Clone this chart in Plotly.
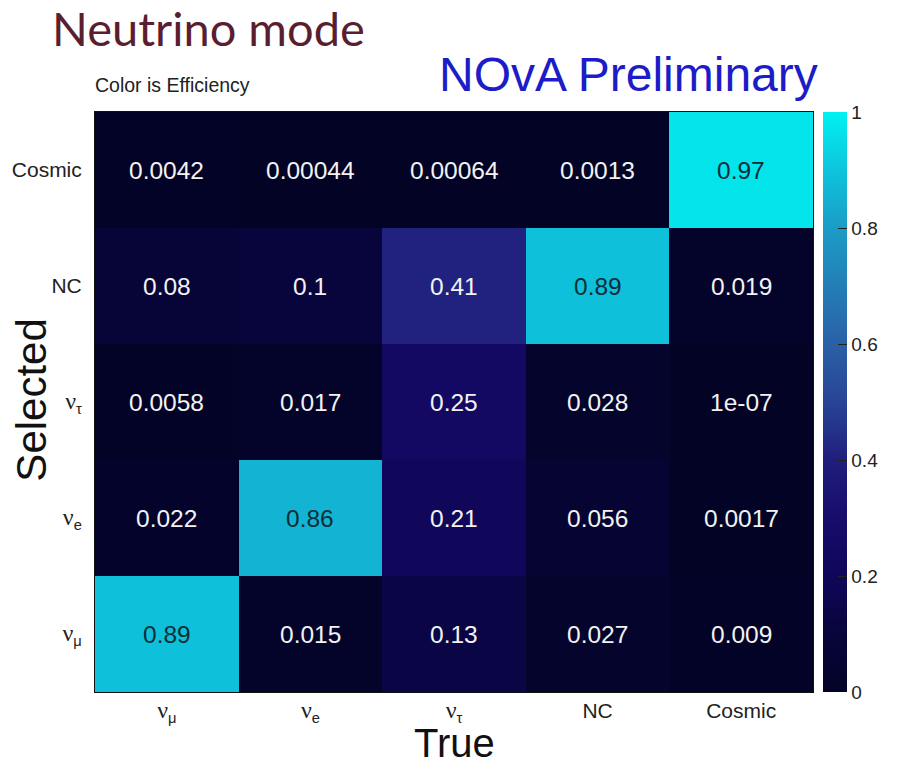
import plotly.graph_objects as go

true_cats = ["nu_mu", "nu_e", "nu_tau", "NC", "Cosmic"]
sel_cats = ["nu_mu", "nu_e", "nu_tau", "NC", "Cosmic"]
SERIF = "Liberation Serif"
tick_labels = [
    f'<span style="font-family:{SERIF};font-size:24px">ν</span><sub>μ</sub>',
    f'<span style="font-family:{SERIF};font-size:24px">ν</span><sub>e</sub>',
    f'<span style="font-family:{SERIF};font-size:24px">ν</span><sub>τ</sub>',
    "NC",
    "Cosmic",
]
# rows: selected (bottom -> top), columns: true
eff_numu = [0.89, 0.015, 0.13, 0.027, 0.009]
eff_nue = [0.022, 0.86, 0.21, 0.056, 0.0017]
eff_nutau = [0.0058, 0.017, 0.25, 0.028, 1e-07]
eff_nc = [0.08, 0.1, 0.41, 0.89, 0.019]
eff_cosmic = [0.0042, 0.00044, 0.00064, 0.0013, 0.97]
z = [eff_numu, eff_nue, eff_nutau, eff_nc, eff_cosmic]

cscale = [
    [0.0, "rgb(3,3,38)"],
    [0.1, "rgb(8,5,60)"],
    [0.2, "rgb(16,6,88)"],
    [0.3, "rgb(24,12,108)"],
    [0.4, "rgb(32,30,124)"],
    [0.5, "rgb(40,68,150)"],
    [0.6, "rgb(42,96,166)"],
    [0.7, "rgb(36,126,182)"],
    [0.8, "rgb(26,156,198)"],
    [0.9, "rgb(14,196,220)"],
    [1.0, "rgb(0,242,242)"],
]

FONT = "Liberation Sans"
fig = go.Figure()
fig.add_trace(go.Heatmap(
    x=true_cats, y=sel_cats, z=z, zmin=0, zmax=1,
    colorscale=cscale, hoverinfo="skip",
    colorbar=dict(
        x=(830 - 95) / 725, xanchor="left", xpad=0,
        y=0.5, yanchor="middle", len=1, lenmode="fraction", ypad=0,
        thickness=24, thicknessmode="pixels",
        outlinewidth=0,
        tickmode="array", tickvals=[0, 0.2, 0.4, 0.6, 0.8, 1],
        ticktext=["0", "0.2", "0.4", "0.6", "0.8", "1"],
        ticks="inside", ticklen=9, tickcolor="#222",
        tickfont=dict(family=FONT, size=19, color="#222"),
    ),
))

annotations = []
for j, row in enumerate(z):
    for i, v in enumerate(row):
        annotations.append(dict(
            x=true_cats[i], y=sel_cats[j], xref="x", yref="y",
            text="%.2g" % v, showarrow=False,
            font=dict(family=FONT, size=24.5,
                      color="#0e2e38" if v > 0.7 else "#f2f2f2"),
        ))

annotations += [
    dict(text="Neutrino mode", xref="paper", yref="paper",
         x=(50 - 95) / 725, y=(692 - 28) / 580, xanchor="left", yanchor="middle",
         showarrow=False, font=dict(family="Lato", size=47, color="#5a1e30")),
    dict(text="Color is Efficiency", xref="paper", yref="paper",
         x=-0.003, y=(692 - 85) / 580, xanchor="left", yanchor="middle",
         showarrow=False, font=dict(family=FONT, size=19.5, color="#222")),
    dict(text="NOvA Preliminary", xref="paper", yref="paper",
         x=(827 - 95) / 725, y=(692 - 75) / 580, xanchor="right", yanchor="middle",
         showarrow=False, font=dict(family=FONT, size=48, color="#1c1cc8")),
    dict(text="Selected", xref="paper", yref="paper",
         x=(30 - 95) / 725, y=(692 - 400) / 580, xanchor="center", yanchor="middle",
         textangle=-90, showarrow=False, font=dict(family=FONT, size=42, color="#111")),
    dict(text="True", xref="paper", yref="paper",
         x=(458 - 95) / 725, y=(692 - 743) / 580, xanchor="center", yanchor="middle",
         showarrow=False, font=dict(family=FONT, size=40, color="#111")),
]

fig.update_layout(
    width=900, height=766,
    margin=dict(l=95, r=80, t=112, b=74, pad=0),
    paper_bgcolor="white", plot_bgcolor="white",
    annotations=annotations,
    xaxis=dict(tickmode="array", tickvals=true_cats, ticktext=tick_labels,
               tickfont=dict(family=FONT, size=21, color="#222"),
               showline=True, linecolor="#111", linewidth=1, mirror=True,
               ticks="", showgrid=False, zeroline=False),
    yaxis=dict(tickmode="array", tickvals=sel_cats, ticktext=tick_labels,
               tickfont=dict(family=FONT, size=21, color="#222"),
               showline=True, linecolor="#111", linewidth=1, mirror=True,
               ticks="", showgrid=False, zeroline=False, ticklabelstandoff=8),
)

fig.write_html("out.html")
